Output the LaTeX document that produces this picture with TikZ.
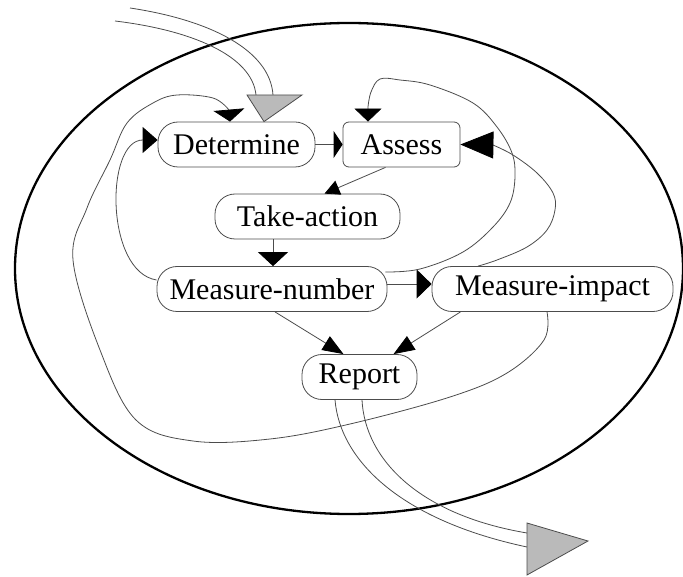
\documentclass[tikz,border=0pt]{standalone}
\usepackage{fontspec}
\setmainfont{Liberation Serif}
\usetikzlibrary{arrows.meta,calc}
\begin{document}
\begin{tikzpicture}[x=1pt,y=-1pt,
  box/.style={draw=black!70, line width=0.8pt, rounded corners=20pt, minimum height=45pt, inner sep=0pt, font=\fontsize{30}{36}\selectfont},
  sqbox/.style={box, rounded corners=6pt},
  conn/.style={draw=black!70, line width=0.8pt},
  grayhead/.style={fill=black!27, draw=black!70, line width=0.8pt}]
\useasboundingbox (0,0) rectangle (683,577);
% outer ellipse
\draw[line width=2.3pt] (349,268.5) ellipse [x radius=334pt, y radius=245.5pt];
% nodes
\node[box, minimum width=157pt] (det) at (236.5,144.5) {Determine};
\node[sqbox, minimum width=117pt] (ass) at (401.5,144.5) {Assess};
\node[box, minimum width=185pt] (tak) at (307.5,216.5) {Take-action};
\node[box, minimum width=230pt] (mn) at (272,289) {Measure-number};
\node[box, minimum width=241pt] (mi) at (552.5,289) {Measure-impact};
\node[box, minimum width=115pt] (rep) at (359.5,377) {Report};
% straight connectors
\draw[conn, -{Triangle[width=27pt,length=9pt,black]}] (det.east) -- (ass.west);
\draw[conn, -{Triangle[width=15pt,length=15pt,black]}] ([shift={(-16,0)}]ass.south) -- ([shift={(17,0)}]tak.north);
\draw[conn, -{Triangle[width=30pt,length=14pt,black]}] ([shift={(-34.5,0)}]tak.south) -- ([shift={(1,0)}]mn.north);
\draw[conn, -{Triangle[width=29pt,length=15pt,black]}] ([shift={(0,-5)}]mn.east) -- ([shift={(0,-5)}]mi.west);
\draw[conn, -{Triangle[width=16pt,length=21pt,black]}] ([shift={(3,0)}]mn.south) -- ([shift={(-16,0)}]rep.north);
\draw[conn, -{Triangle[width=16pt,length=21pt,black]}] ([shift={(-92,0)}]mi.south) -- ([shift={(34,0)}]rep.north);
% curve B: Measure-number -> Determine (left)
\draw[conn, -{Triangle[width=26pt,length=15pt,black]}] ([shift={(0,-9)}]mn.west) .. controls (105,272) and (105,140) .. ([shift={(0,-4.5)}]det.west);
% curve A: Measure-impact -> Determine (top)
\coordinate (aStart) at ([shift={(-5.5,0)}]mi.south);
\coordinate (aEnd) at ([shift={(-6.5,0)}]det.north);
\draw[conn, -{Triangle[width=31pt,length=12pt,black]}] plot[smooth, tension=0.6] coordinates {(aStart) (544,340) (507,373) (450,397) (350,424) (270,439) (193,441) (136,420) (100,350) (73,260) (87,208) (110,160) (127,123) (153,103) (177,95) (213,98) (229,110)} -- (aEnd);
% curve C: Measure-number -> Assess (top)
\coordinate (cStart) at ([shift={(-2,-17)}]mn.east);
\coordinate (cEnd) at ([shift={(-33.5,0)}]ass.north);
\draw[conn, -{Triangle[width=27pt,length=13pt,black]}] plot[smooth, tension=0.6] coordinates {(cStart) (420,269) (463,252) (493,227) (510,203) (515,177) (512,153) (497,127) (473,103) (430,85) (400,80) (380,79) (371,92) (368,107)} -- (cEnd);
% curve D: Measure-impact -> Assess (right)
\coordinate (dStart) at ([shift={(-74.5,0)}]mi.north);
\draw[conn, -{Triangle[width=27pt,length=33pt,black]}] plot[smooth, tension=0.6] coordinates {(dStart) (497,260) (527,247) (547,230) (555,210) (553,193) (537,173) (513,155) (493,145)} -- (ass.east);
% input flow
\coordinate (inA) at (130,8);
\coordinate (inB) at (115,21);
\coordinate (inTip) at ([shift={(27.5,0)}]det.north);
\draw[conn] (inA) .. controls (210,20) and (270,50) .. (273,95);
\draw[conn] (inB) .. controls (190,30) and (252,55) .. (256,95);
\draw[grayhead] (247,95) -- (302,95) -- (inTip) -- cycle;
% output flow
\coordinate (outTip) at (588,541);
\draw[conn] ([shift={(-24.5,0)}]rep.south) .. controls (340,460) and (400,520) .. (527,547);
\draw[conn] ([shift={(2.5,0)}]rep.south) .. controls (365,460) and (420,515) .. (527,533);
\draw[grayhead] (527,523) -- (527,575) -- (outTip) -- cycle;
\end{tikzpicture}
\end{document}
